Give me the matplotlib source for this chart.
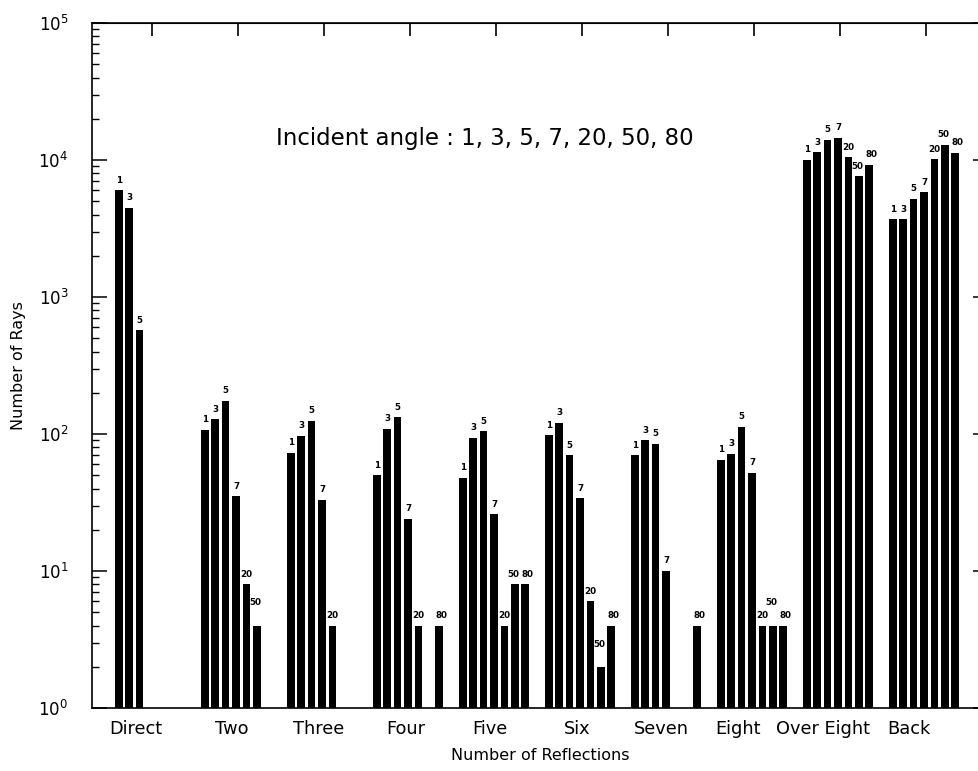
import matplotlib
matplotlib.use("Agg")
import matplotlib.pyplot as plt
import numpy as np

nan = np.nan

# number of reflections (groups on the x axis)
groups = ['Direct', 'Two', 'Three', 'Four', 'Five', 'Six', 'Seven', 'Eight', 'Over Eight', 'Back']
# where each group name sits under the axis (the original labels are not exactly centred)
label_pos = [-0.19, 0.93, 1.94, 2.95, 3.93, 4.95, 5.93, 6.82, 7.80, 8.80]

# incident angles and number of rays for each one
angles = ['1', '3', '5', '7', '20', '50', '80']
rays_1 = [6000, 107, 73, 50, 48, 98, 70, 65, 10000, 3700]
rays_3 = [4500, 128, 97, 109, 94, 121, 90, 72, 11400, 3700]
rays_5 = [570, 174, 125, 132, 105, 70, 85, 113, 14000, 5200]
rays_7 = [nan, 35, 33, 24, 26, 34, 10, 52, 14500, 5800]
rays_20 = [nan, 8, 4, 4, 4, 6, nan, 4, 10500, 10100]
rays_50 = [nan, 4, nan, nan, 8, 2, nan, 4, 7600, 12900]
rays_80 = [nan, nan, nan, 4, 8, 4, 4, 4, 9200, 11300]
rays = [rays_1, rays_3, rays_5, rays_7, rays_20, rays_50, rays_80]

fig = plt.figure(figsize=(9.79, 7.71), dpi=100)
ax = fig.add_axes([92/979, 63/771, (988-92)/979, (708-23)/771])
ax.set_yscale('log')

step = 0.121   # distance between neighbouring bars of one group
width = 0.088
x0 = np.arange(len(groups))

# small horizontal nudges of the bar labels, as in the original
dx = {'50': -1.2, '80': 1.8}

for k in range(len(angles)):
    xs = x0 + (k - 3) * step - 0.02
    vals = np.array(rays[k], dtype=float)
    ok = ~np.isnan(vals)
    ax.bar(xs[ok], vals[ok], width=width, color='black', bottom=0)
    for x, v in zip(xs[ok], vals[ok]):
        lift = 4
        if angles[k] == '50' and v <= 4:
            lift = 13
        ax.annotate(angles[k], (x, v), xytext=(dx.get(angles[k], 0), lift),
                    textcoords='offset points', ha='center', va='bottom',
                    fontsize=6.3, fontweight='bold')

ax.set_xlim(-0.694, 9.724)
ax.set_ylim(1, 1e5)

# bottom: only the group names, no tick marks
ax.set_xticks(label_pos)
ax.set_xticklabels(groups, fontsize=12.8)
ax.tick_params(axis='x', length=0, pad=9)

# top ticks at the group centres
top = ax.secondary_xaxis('top')
top.set_xticks(x0)
top.set_xticklabels([])
top.tick_params(direction='in', length=9.5, width=1.2)

ax.tick_params(axis='y', which='major', direction='in', length=11, width=1.1,
               labelsize=12, pad=17, right=True)
ax.tick_params(axis='y', which='minor', direction='in', length=5, width=1, right=True)

ax.set_xlabel('Number of Reflections', fontsize=11.5, labelpad=7)
ax.set_ylabel('Number of Rays', fontsize=11.5, labelpad=9)

ax.text(0.4385, (708-138)/(708-23), 'Incident angle : 1, 3, 5, 7, 20, 50, 80',
        fontsize=16.5, ha='center', va='center', transform=ax.transAxes)

for s in ax.spines.values():
    s.set_linewidth(1.2)

fig.savefig('out.png', dpi=100)
